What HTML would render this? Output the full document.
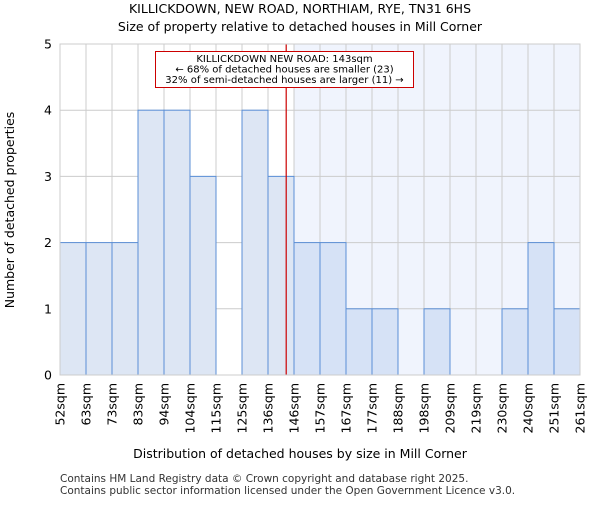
<!DOCTYPE html>
<html><head><meta charset="utf-8"><style>
body{margin:0;background:#fff;font-family:"Liberation Sans","DejaVu Sans",sans-serif}
</style></head><body>
<svg id="c" width="600" height="500" xmlns="http://www.w3.org/2000/svg" font-family="DejaVu Sans, Liberation Sans, sans-serif">
<text x="300" y="13" text-anchor="middle" font-size="12.5">KILLICKDOWN, NEW ROAD, NORTHIAM, RYE, TN31 6HS</text>
<text x="300" y="31" text-anchor="middle" font-size="12.5">Size of property relative to detached houses in Mill Corner</text>
<g id="plot"></g>
<text x="300" y="458" text-anchor="middle" font-size="12.5">Distribution of detached houses by size in Mill Corner</text>
<text transform="translate(14,210) rotate(-90)" text-anchor="middle" font-size="12.5">Number of detached properties</text>
<text x="60" y="482" font-size="10.5" fill="#333">Contains HM Land Registry data © Crown copyright and database right 2025.</text>
<text x="60" y="494" font-size="10.5" fill="#333">Contains public sector information licensed under the Open Government Licence v3.0.</text>
</svg>
<script>
const binLabels=["52sqm","63sqm","73sqm","83sqm","94sqm","104sqm","115sqm","125sqm","136sqm","146sqm","157sqm","167sqm","177sqm","188sqm","198sqm","209sqm","219sqm","230sqm","240sqm","251sqm","261sqm"];
const binEdges=[52,63,73,83,94,104,115,125,136,146,157,167,177,188,198,209,219,230,240,251,261];
const counts=[2,2,2,4,4,3,0,4,3,2,2,1,1,0,1,0,0,1,2,1];
const yTicks=[0,1,2,3,4,5];
const propertySize=143;
const NS="http://www.w3.org/2000/svg";
const L=60,R=580,T=44,B=375,yMax=5;
const nb=counts.length;
const xi=i=>L+(R-L)*i/nb;
const xv=v=>{for(let i=0;i<binEdges.length-1;i++){if(v<=binEdges[i+1])return xi(i)+(v-binEdges[i])/(binEdges[i+1]-binEdges[i])*(xi(i+1)-xi(i));}return R;};
const y=v=>B-(B-T)*v/yMax;
const g=document.getElementById('plot');
function mk(t,a){const e=document.createElementNS(NS,t);for(const k in a)e.setAttribute(k,a[k]);g.appendChild(e);return e;}
let sb=0;while(sb<binEdges.length&&binEdges[sb]<propertySize)sb++;
const shade=mk('rect',{x:xi(sb),y:T,width:R-xi(sb),height:B-T,fill:'#f0f4fd'});


for(let i=0;i<=nb;i++){const l=mk('line',{x1:xi(i),x2:xi(i),y1:T,y2:B,stroke:'#cccccc','stroke-width':1});

}
yTicks.forEach(t=>{const l=mk('line',{x1:L,x2:R,y1:y(t),y2:y(t),stroke:'#cccccc','stroke-width':1});


const tx=mk('text',{x:L-8,y:y(t)+4.5,'text-anchor':'end','font-size':12.5});tx.textContent=t;

});
counts.forEach((c,i)=>{if(!c)return;const r=mk('rect',{x:xi(i),y:y(c),width:xi(i+1)-xi(i),height:B-y(c),fill:i<sb?'#dde6f4':'#d6e2f6',stroke:'#5b8fd6','stroke-width':1});

});
binLabels.forEach((s,i)=>{const tx=mk('text',{transform:`translate(${xi(i)+4.5},${B+8}) rotate(-90)`,'text-anchor':'end','font-size':12.5});tx.textContent=s;

});
const px=xv(propertySize);
const rl=mk('line',{x1:px,x2:px,y1:T,y2:B,stroke:'#cc0000','stroke-width':1.2});


const box=mk('rect',{x:155.5,y:51.5,width:258,height:36,fill:'#fff',stroke:'#cc0000','stroke-width':1});


["KILLICKDOWN NEW ROAD: 143sqm","← 68% of detached houses are smaller (23)","32% of semi-detached houses are larger (11) →"].forEach((s,i)=>{const tx=mk('text',{x:284.5,y:62+i*10.5,'text-anchor':'middle','font-size':10});tx.textContent=s;

});
const ax=mk('rect',{x:L,y:T,width:R-L,height:B-T,fill:'none',stroke:'#cccccc'});


</script>
</body></html>
